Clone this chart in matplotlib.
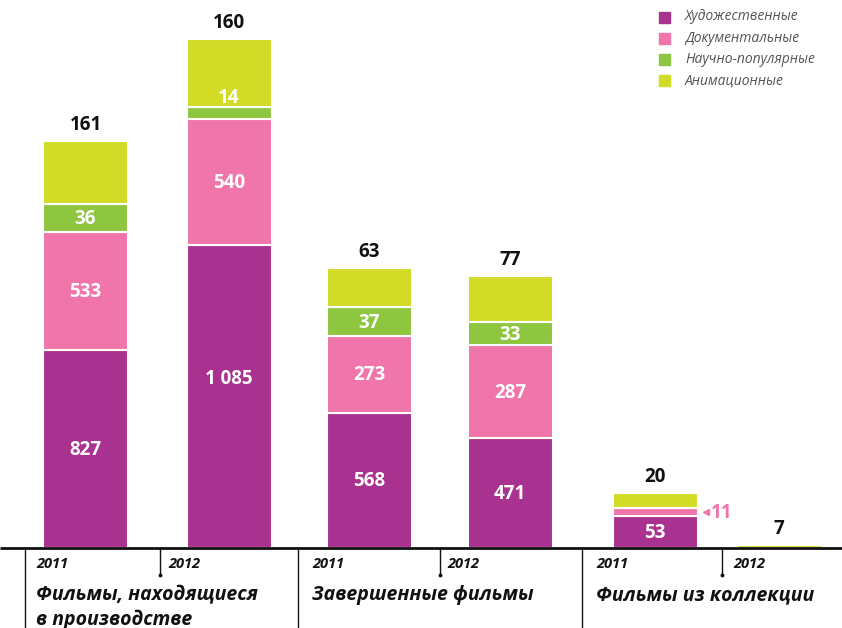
import numpy as np
import matplotlib
matplotlib.use('Agg')
import matplotlib.pyplot as plt

plt.rcParams['font.family'] = ['Open Sans', 'DejaVu Sans']

# labels printed in the chart
years = ['2011', '2012', '2011', '2012', '2011', '2012']
groups = ['Фильмы, находящиеся\nв производстве', 'Завершенные фильмы', 'Фильмы из коллекции']
series = ['Художественные', 'Документальные', 'Научно-популярные', 'Анимационные']
colors = ['#a9318f', '#f075aa', '#8ec63f', '#d2dc26']

art = [827, 1085, 568, 471, 53, None]
doc = [533, 540, 273, 287, 11, None]
sci = [36, 14, 37, 33, None, None]
anim = [161, 160, 63, 77, 20, 7]

# segment lengths as drawn (the original is not to scale)
art_h = [198, 303, 135, 110, 32, 0]
doc_h = [118, 126, 77, 93, 8, 0]
sci_h = [28, 12, 29, 23, 0, 0]
anim_h = [63, 68, 39, 46, 15, 3]

def fmt(v):
    return '{:,}'.format(v).replace(',', ' ')

fig = plt.figure(figsize=(8.42, 6.28), dpi=100)
ax = fig.add_axes([0, 0, 1, 1])
ax.set_xlim(0, 842)
ax.set_ylim(-80, 548)
ax.axis('off')

xpos = np.array([85.5, 229, 369, 510, 655, 779])
width = 85
bottom = np.zeros(6)
for k, (vals, hts, col) in enumerate(zip([art, doc, sci, anim], [art_h, doc_h, sci_h, anim_h], colors)):
    hts = np.array(hts, dtype=float)
    ax.bar(xpos, hts, width, bottom=bottom, color=col, edgecolor='white', linewidth=1.5, zorder=2)
    if k < 3:
        for i, (x, b, h, v) in enumerate(zip(xpos, bottom, hts, vals)):
            if v is None or h <= 0:
                continue
            if h >= 16:
                yc = b + h / 2 - 1
                if k == 0 and h > 250:
                    yc += 19      # the big label sits a bit higher in the original
                ax.text(x, yc, fmt(v), ha='center', va='center', color='white',
                        fontsize=13.5, fontweight='bold', zorder=3)
            elif k == 2:
                # thin green strip: number goes just above it, on the yellow
                ax.text(x, b + h + 9, fmt(v), ha='center', va='center', color='white',
                        fontsize=13.5, fontweight='bold', zorder=3)
            else:
                ax.plot(x + width / 2 + 8, b + h / 2, marker='<', color=colors[1], markersize=4, zorder=3)
                ax.text(x + width / 2 + 13, b + h / 2 - 1, fmt(v), ha='left', va='center',
                        color=colors[1], fontsize=13.5, fontweight='bold', zorder=3)
    bottom += hts

# animation values sit above the bars
for x, top, v in zip(xpos, bottom, anim):
    ax.text(x, top + 16, fmt(v), ha='center', va='center', color='#111111',
            fontsize=13.5, fontweight='bold')

# baseline, dividers and ticks
ax.plot([0, 842], [0, 0], color='#111111', lw=2, zorder=4, solid_capstyle='butt')
for xd in [25, 298, 582]:
    ax.plot([xd, xd], [0, -80], color='#111111', lw=1)
for xt in [160, 440, 722]:
    ax.plot([xt, xt], [0, -27], color='#111111', lw=1)
    ax.plot(xt, -27, 'o', color='#111111', markersize=1.8)

year_x = [36, 168, 312, 447, 596, 733]
for x, y in zip(year_x, years):
    ax.text(x, -16, y, ha='left', va='center', fontsize=10.5, fontweight='bold',
            style='italic', color='#111111')
for x, g in zip([36, 312, 596], groups):
    ax.text(x, -37, g, ha='left', va='top', fontsize=14, fontweight='bold',
            style='italic', color='#111111', linespacing=1.3)

# legend
for i, (s, c) in enumerate(zip(series, colors)):
    y = 531 - i * 21.3
    ax.add_patch(plt.Rectangle((659, y - 5.5), 11, 11, color=c))
    ax.text(685, y, s, ha='left', va='center', fontsize=10, style='italic', color='#555555')

fig.savefig('out.png', dpi=100)
